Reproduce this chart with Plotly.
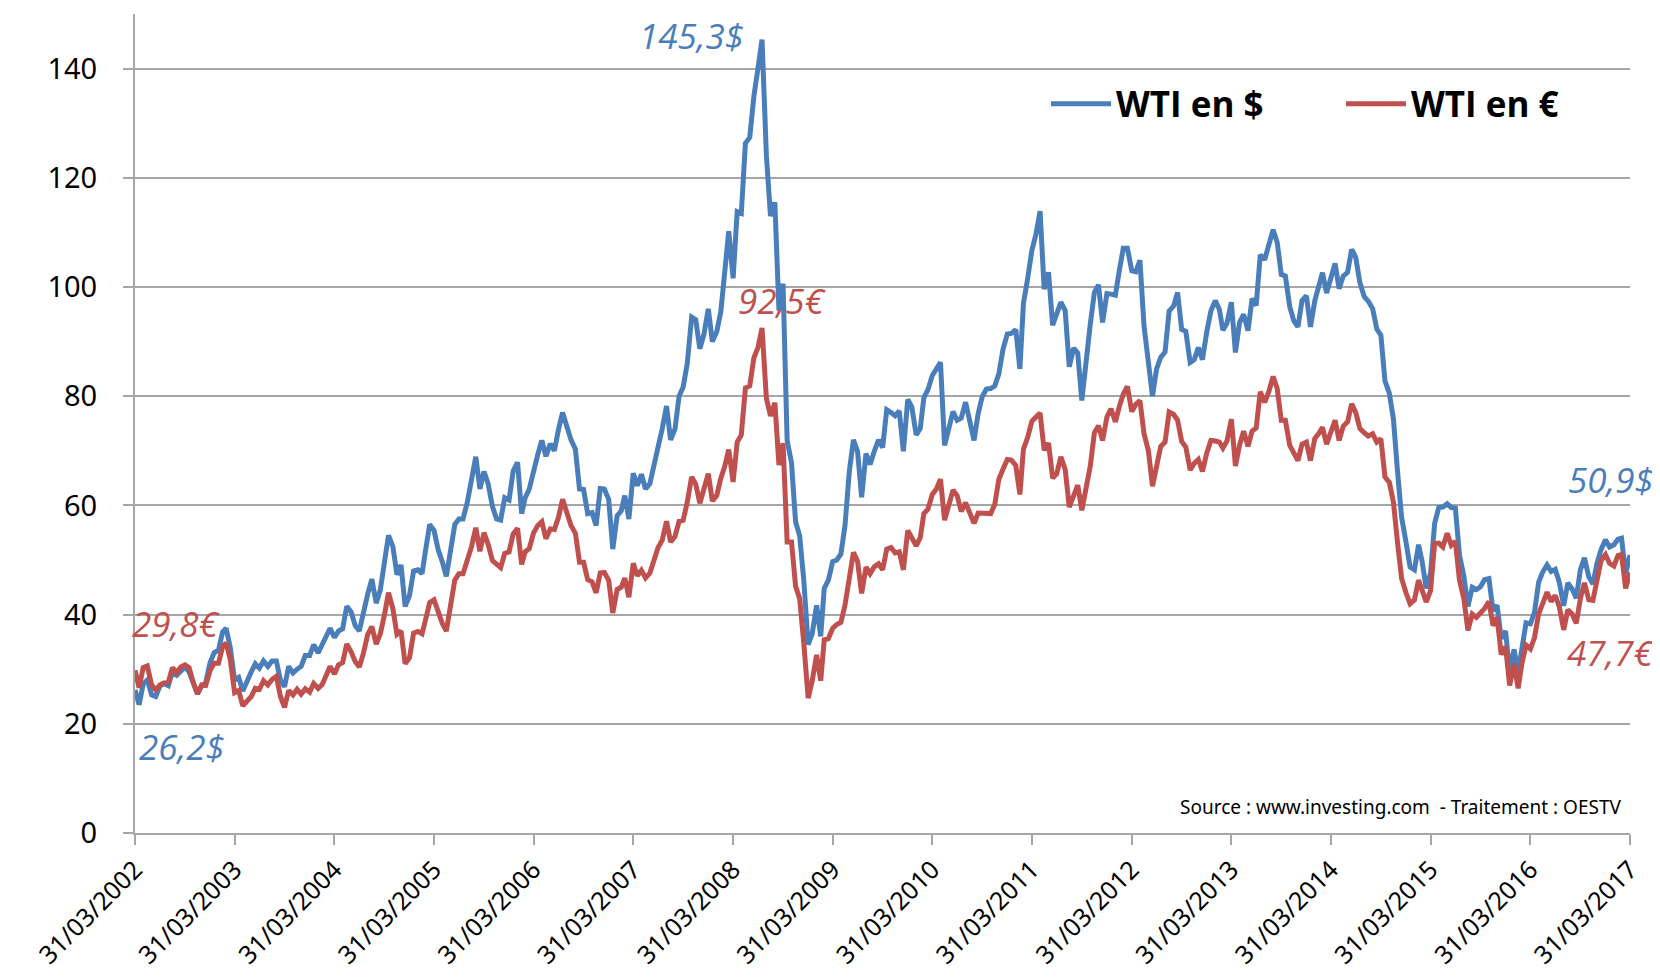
import pandas as pd
import plotly.graph_objects as go

# Semi-monthly dates (15th and end of month) from 31/03/2002 to 31/03/2017
try:
    dates = pd.date_range("2002-03-31", "2017-03-31", freq="SME")
except ValueError:
    dates = pd.date_range("2002-03-31", "2017-03-31", freq="SM")

wti_usd = [
    # 2002 (Mar end, then Apr..Dec: mid, end)
    26.2, 23.5, 27.3, 28.0, 25.3, 25.0, 26.9, 27.4, 27.0, 29.5, 28.9, 29.8, 30.4, 29.5, 27.2, 25.5, 26.9, 27.5, 31.2,
    # 2003
    33.0, 33.5, 36.8, 37.5, 34.0, 28.0, 28.5, 26.0, 28.0, 29.5, 31.0, 30.2, 31.5, 30.5, 31.5, 31.5, 28.0, 26.8, 30.5, 29.3, 30.0, 30.5, 32.5, 32.5,
    # 2004
    34.5, 33.0, 34.5, 36.2, 37.5, 35.8, 37.0, 37.4, 41.5, 40.5, 38.0, 37.0, 40.5, 43.8, 46.5, 42.1, 44.5, 49.6, 54.5, 52.5, 47.3, 49.1, 41.5, 43.5,
    # 2005
    48.0, 48.2, 47.5, 51.8, 56.5, 55.4, 51.9, 49.7, 47.0, 51.9, 56.5, 57.5, 57.5, 60.6, 64.5, 68.9, 63.0, 66.2, 64.0, 59.8, 57.5, 57.3, 61.4, 61.0,
    # 2006
    66.3, 67.9, 58.5, 61.4, 63.0, 66.6, 69.3, 71.9, 69.0, 71.3, 70.0, 73.9, 77.0, 74.4, 72.0, 70.3, 63.0, 62.9, 58.5, 58.7, 56.3, 63.1, 63.0, 61.1,
    # 2007
    52.0, 58.1, 59.0, 61.8, 57.5, 65.9, 63.6, 65.7, 63.0, 64.0, 67.0, 70.7, 74.0, 78.2, 72.0, 74.0, 80.0, 81.7, 86.0, 94.5, 94.0, 88.7, 91.3, 96.0,
    # 2008
    90.0, 91.8, 95.5, 101.8, 110.2, 101.6, 113.8, 113.5, 126.3, 127.4, 134.9, 140.0, 145.3, 124.1, 113.0, 115.5, 95.7, 100.6, 71.9, 67.8, 57.0, 54.4, 46.3, 34.5,
    # 2009
    36.5, 41.7, 36.0, 44.8, 46.3, 49.7, 50.0, 51.1, 56.3, 66.3, 72.0, 69.9, 61.5, 69.5, 67.5, 70.0, 72.0, 70.6, 77.5, 77.0, 76.4, 77.3, 69.9, 79.4,
    # 2010
    78.0, 72.9, 74.1, 79.7, 81.2, 83.8, 85.0, 86.2, 71.0, 74.0, 77.2, 75.6, 76.0, 78.9, 75.4, 71.9, 76.8, 79.9, 81.3, 81.4, 81.9, 84.1, 88.6, 91.4,
    # 2011
    91.5, 92.2, 85.0, 97.0, 101.4, 106.7, 109.7, 113.9, 99.6, 102.7, 93.0, 95.4, 97.2, 95.7, 85.4, 88.8, 87.9, 79.2, 86.8, 93.2, 99.0, 100.4, 93.5, 98.8,
    # 2012
    98.7, 98.5, 103.2, 107.1, 107.1, 103.0, 102.8, 104.9, 92.8, 86.5, 80.0, 85.0, 87.1, 88.1, 95.6, 96.5, 99.0, 92.2, 91.9, 86.2, 86.7, 88.9, 86.7, 91.8,
    # 2013
    95.6, 97.5, 95.9, 92.1, 93.4, 97.2, 88.0, 93.5, 95.0, 92.0, 97.9, 96.6, 105.9, 105.0, 107.5, 110.5, 108.2, 102.3, 102.0, 96.4, 93.8, 92.7, 97.5, 98.4,
    # 2014
    92.7, 97.5, 100.3, 102.6, 98.9, 101.6, 104.3, 99.7, 102.0, 102.7, 106.9, 105.4, 100.8, 98.2, 97.4, 96.0, 92.3, 91.2, 82.8, 80.5, 75.8, 66.2, 57.8, 53.3,
    # 2015
    48.7, 48.2, 52.8, 49.8, 44.8, 47.6, 56.7, 59.6, 59.7, 60.3, 59.6, 59.5, 50.9, 47.1, 41.5, 45.0, 44.6, 45.1, 46.4, 46.6, 40.7, 41.7, 35.6, 37.0,
    # 2016
    29.4, 33.6, 29.4, 33.8, 38.5, 38.3, 40.4, 45.9, 47.8, 49.1, 47.9, 48.3, 45.9, 41.6, 45.8, 44.7, 43.0, 48.2, 50.4, 46.9, 45.6, 49.4, 51.9, 53.7,
    # 2017 (Jan..Mar)
    52.4, 52.8, 53.8, 54.0, 47.5, 50.9,
]

wti_eur = [
    # 2002
    29.8, 26.6, 30.3, 30.6, 27.1, 26.2, 27.1, 27.5, 27.6, 30.3, 29.4, 30.4, 30.8, 30.3, 27.5, 25.5, 27.1, 27.0, 29.7,
    # 2003
    31.1, 31.1, 34.1, 34.8, 31.8, 25.7, 26.1, 23.3, 24.1, 25.0, 26.5, 26.3, 27.9, 27.1, 28.1, 28.7, 25.0, 23.0, 26.1, 25.3, 26.3, 25.4, 26.4, 25.8,
    # 2004
    27.4, 26.5, 27.2, 29.0, 30.5, 29.1, 30.8, 31.2, 34.6, 33.2, 31.4, 30.4, 32.9, 36.4, 37.8, 34.6, 36.5, 39.9, 44.0, 41.1, 36.4, 37.0, 31.0, 32.1,
    # 2005
    36.6, 36.9, 36.5, 39.1, 42.2, 42.7, 40.2, 38.4, 37.0, 42.1, 46.3, 47.5, 47.5, 50.0, 52.4, 55.9, 51.6, 55.0, 52.9, 49.9, 49.1, 48.6, 51.2, 51.5,
    # 2006
    54.8, 55.8, 49.2, 51.5, 52.1, 55.0, 56.3, 57.0, 53.9, 55.7, 55.6, 57.8, 61.1, 58.3, 56.3, 54.9, 49.6, 49.6, 46.4, 46.0, 44.0, 47.6, 47.7, 46.3,
    # 2007
    40.3, 44.6, 45.0, 46.7, 43.2, 49.4, 47.1, 48.1, 46.7, 47.6, 50.0, 52.3, 53.6, 57.1, 53.3, 54.3, 57.1, 57.3, 60.6, 65.2, 63.9, 60.4, 63.0, 65.8,
    # 2008
    60.8, 61.8, 65.0, 67.1, 70.2, 64.3, 71.6, 72.9, 81.5, 81.9, 87.0, 88.9, 92.5, 79.6, 76.4, 78.8, 67.4, 71.4, 53.3, 53.3, 45.2, 42.9, 34.8, 24.7,
    # 2009
    27.9, 32.6, 27.9, 35.4, 35.6, 37.5, 38.2, 38.6, 41.7, 46.8, 51.4, 49.8, 43.9, 48.7, 47.5, 48.8, 49.3, 48.2, 52.0, 52.3, 51.3, 51.5, 48.2, 55.4,
    # 2010
    54.2, 52.6, 54.1, 58.5, 59.3, 62.0, 63.0, 64.8, 57.3, 60.3, 62.8, 61.8, 58.9, 60.5, 58.9, 56.7, 58.6, 58.6, 58.5, 58.5, 60.2, 64.8, 66.6, 68.4,
    # 2011
    68.3, 67.3, 62.0, 70.3, 72.4, 75.4, 76.2, 76.9, 70.1, 71.4, 65.0, 65.8, 68.9, 66.6, 59.7, 61.8, 63.7, 59.1, 63.4, 67.2, 73.3, 74.6, 71.9, 76.2,
    # 2012
    77.7, 75.3, 78.2, 80.4, 81.8, 77.2, 78.5, 79.2, 73.1, 70.0, 63.5, 67.1, 70.8, 71.6, 77.1, 76.7, 75.6, 71.7, 70.7, 66.5, 67.7, 68.4, 66.2, 69.6,
    # 2013
    71.9, 71.8, 71.6, 70.5, 71.8, 75.8, 67.2, 71.0, 73.6, 70.8, 73.6, 74.2, 80.8, 78.9, 80.8, 83.6, 81.4, 75.6, 75.6, 71.0, 69.5, 68.2, 71.2, 71.6,
    # 2014
    68.2, 72.3, 73.2, 74.3, 71.2, 73.8, 75.6, 71.9, 74.5, 75.3, 78.6, 77.0, 74.1, 73.3, 72.7, 73.1, 71.6, 72.2, 65.2, 64.2, 60.6, 53.2, 46.6, 44.0,
    # 2015
    42.0, 42.7, 46.3, 44.5, 42.3, 44.4, 53.0, 53.1, 52.4, 54.9, 52.7, 53.4, 46.3, 42.9, 37.1, 40.1, 39.5, 40.3, 41.1, 42.4, 38.0, 39.5, 32.7, 34.1,
    # 2016
    27.0, 31.0, 26.5, 31.1, 34.4, 33.7, 35.8, 40.1, 42.3, 44.1, 42.4, 43.5, 41.4, 37.2, 40.9, 40.1, 38.4, 42.9, 45.8, 42.7, 42.6, 46.6, 49.9, 51.0,
    # 2017
    49.4, 48.9, 50.8, 51.0, 44.8, 47.7,
]

tick_dates = [f"{y}-03-31" for y in range(2002, 2018)]
tick_labels = [f"31/03/{y}" for y in range(2002, 2018)]
y_ticks = [0, 20, 40, 60, 80, 100, 120, 140]

BLUE = "#4a7ebb"
RED = "#c0504d"
GRID = "#a6a6a6"
FONT = "Noto Sans"

# plot area in pixels
L, R, T, B = 127, 1622, 6, 825

fig = go.Figure()
fig.add_trace(go.Scatter(x=dates, y=wti_usd, mode="lines", name="WTI en $",
                         line=dict(color=BLUE, width=5)))
fig.add_trace(go.Scatter(x=dates, y=wti_eur, mode="lines", name="WTI en €",
                         line=dict(color=RED, width=5)))


def px_x(x):
    return (x - L) / (R - L)


def px_y(y):
    return (B - y) / (B - T)


fig.update_layout(
    width=1660, height=977,
    margin=dict(l=L, r=1660 - R, t=T, b=977 - B, autoexpand=False),
    plot_bgcolor="white", paper_bgcolor="white",
    font=dict(family=FONT, color="black"),
    showlegend=True,
    legend=dict(orientation="h", x=px_x(1038), y=px_y(96), xanchor="left", yanchor="middle",
                font=dict(size=35, family="Open Sans", color="black", weight="bold"),
                itemwidth=60, bgcolor="rgba(0,0,0,0)", entrywidth=220),
    xaxis=dict(
        range=["2002-03-31", "2017-03-31"],
        tickvals=tick_dates, ticktext=tick_labels, tickangle=-45,
        tickfont=dict(size=25, family=FONT), showgrid=False,
        showline=True, linecolor=GRID, linewidth=2,
        ticks="outside", ticklen=10, tickcolor=GRID, tickwidth=2,
        ticklabelstandoff=0, zeroline=False,
    ),
    yaxis=dict(
        range=[0, 150], tickvals=y_ticks,
        tickfont=dict(size=29, family=FONT),
        showgrid=True, gridcolor=GRID, gridwidth=2,
        showline=True, linecolor=GRID, linewidth=2,
        ticks="outside", ticklen=10, tickcolor=GRID, tickwidth=2,
        ticklabelstandoff=20, zeroline=False,
    ),
)

ann_font = dict(size=35, family="Open Sans")
annots = [
    ("145,3$", 738, 27, "right", BLUE),
    ("92,5€", 728, 292, "left", RED),
    ("29,8€", 122, 615, "left", RED),
    ("26,2$", 129, 738, "left", BLUE),
    ("50,9$", 1648, 471, "right", BLUE),
    ("47,7€", 1650, 644, "right", RED),
]
for text, x, y, anchor, col in annots:
    fig.add_annotation(text=f"<i>{text}</i>", xref="paper", yref="paper",
                       x=px_x(x), y=px_y(y), xanchor=anchor, yanchor="middle",
                       showarrow=False, font=dict(color=col, **ann_font))

fig.add_annotation(text="Source : www.investing.com  - Traitement : OESTV",
                   xref="paper", yref="paper", x=px_x(1615), y=px_y(799),
                   xanchor="right", yanchor="middle", showarrow=False,
                   font=dict(size=19, family="Liberation Sans Narrow, Noto Sans", color="black"))

fig.write_html("out.html")
